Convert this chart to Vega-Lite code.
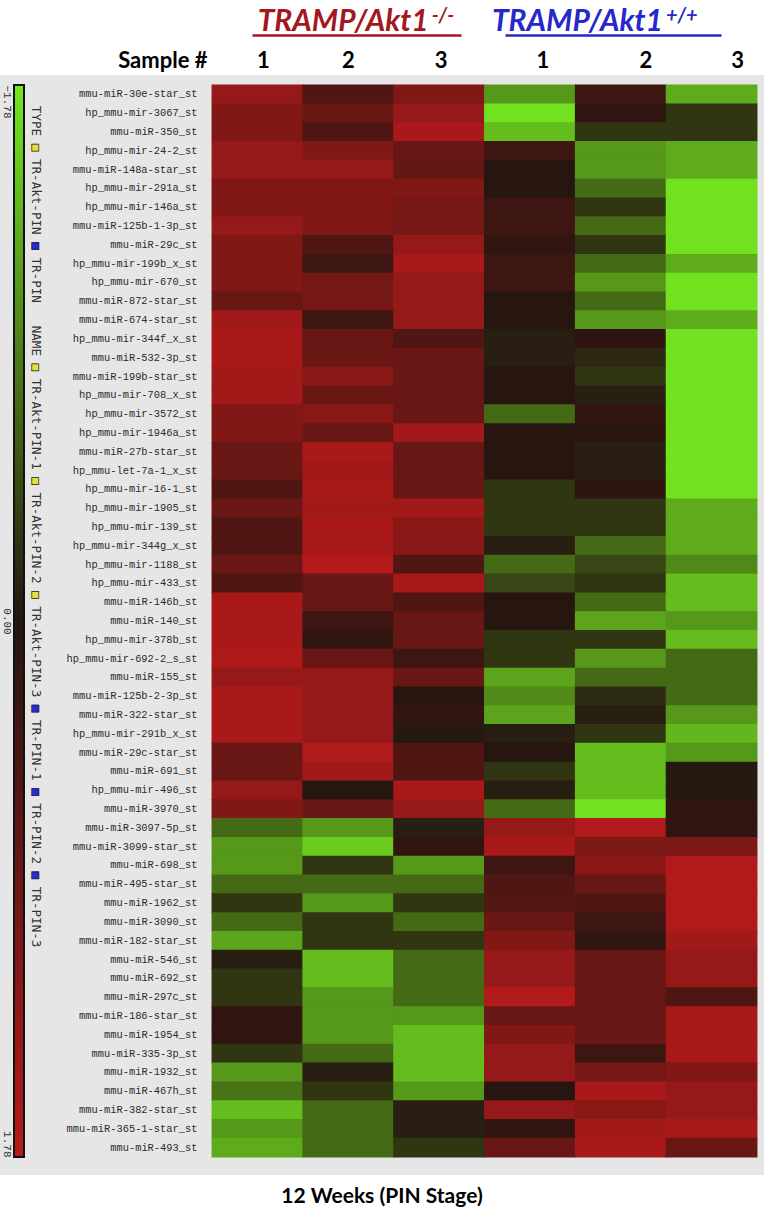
{
  "$schema": "https://vega.github.io/schema/vega-lite/v6.json",
  "width": 764,
  "height": 1100,
  "autosize": {"type": "none"},
  "padding": {"left": 0, "top": 75, "right": 0, "bottom": 35},
  "background": "white",
  "title": {"text": "12 Weeks (PIN Stage)", "orient": "bottom", "anchor": "middle", "frame": "group", "offset": 28, "baseline": "alphabetic", "font": "Lato", "fontSize": 21, "fontWeight": "bold", "color": "#000"},
  "datasets": {
    "groups": [{"grp": "TRAMP/Akt1-/-"}, {"grp": "TRAMP/Akt1+/+"}],
    "colorbar": [{"v": -1.78}, {"v": 0}, {"v": 1.78}],
    "annot": [
      {"kind": "text", "text": "TYPE\u00a0\u00a0\u00a0TR-Akt-PIN\u00a0\u00a0\u00a0TR-PIN\u00a0\u00a0\u00a0NAME\u00a0\u00a0\u00a0TR-Akt-PIN-1\u00a0\u00a0\u00a0TR-Akt-PIN-2\u00a0\u00a0\u00a0TR-Akt-PIN-3\u00a0\u00a0\u00a0TR-PIN-1\u00a0\u00a0\u00a0TR-PIN-2\u00a0\u00a0\u00a0TR-PIN-3"},
      {"kind": "yellow", "text": "\u200b\u00a0\u00a0\u00a0\u00a0\u00a0\u25a0\u00a0\u00a0\u00a0\u00a0\u00a0\u00a0\u00a0\u00a0\u00a0\u00a0\u00a0\u00a0\u00a0\u00a0\u00a0\u00a0\u00a0\u00a0\u00a0\u00a0\u00a0\u00a0\u00a0\u00a0\u00a0\u00a0\u00a0\u00a0\u25a0\u00a0\u00a0\u00a0\u00a0\u00a0\u00a0\u00a0\u00a0\u00a0\u00a0\u00a0\u00a0\u00a0\u00a0\u25a0\u00a0\u00a0\u00a0\u00a0\u00a0\u00a0\u00a0\u00a0\u00a0\u00a0\u00a0\u00a0\u00a0\u00a0\u25a0"},
      {"kind": "blue", "text": "\u200b\u00a0\u00a0\u00a0\u00a0\u00a0\u00a0\u00a0\u00a0\u00a0\u00a0\u00a0\u00a0\u00a0\u00a0\u00a0\u00a0\u00a0\u00a0\u25a0\u00a0\u00a0\u00a0\u00a0\u00a0\u00a0\u00a0\u00a0\u00a0\u00a0\u00a0\u00a0\u00a0\u00a0\u00a0\u00a0\u00a0\u00a0\u00a0\u00a0\u00a0\u00a0\u00a0\u00a0\u00a0\u00a0\u00a0\u00a0\u00a0\u00a0\u00a0\u00a0\u00a0\u00a0\u00a0\u00a0\u00a0\u00a0\u00a0\u00a0\u00a0\u00a0\u00a0\u00a0\u00a0\u00a0\u00a0\u00a0\u00a0\u00a0\u00a0\u00a0\u00a0\u00a0\u00a0\u00a0\u00a0\u00a0\u00a0\u00a0\u25a0\u00a0\u00a0\u00a0\u00a0\u00a0\u00a0\u00a0\u00a0\u00a0\u00a0\u25a0\u00a0\u00a0\u00a0\u00a0\u00a0\u00a0\u00a0\u00a0\u00a0\u00a0\u25a0"},
      {"kind": "box", "text": "\u200b\u00a0\u00a0\u00a0\u00a0\u00a0\u25a1\u00a0\u00a0\u00a0\u00a0\u00a0\u00a0\u00a0\u00a0\u00a0\u00a0\u00a0\u00a0\u25a1\u00a0\u00a0\u00a0\u00a0\u00a0\u00a0\u00a0\u00a0\u00a0\u00a0\u00a0\u00a0\u00a0\u00a0\u00a0\u25a1\u00a0\u00a0\u00a0\u00a0\u00a0\u00a0\u00a0\u00a0\u00a0\u00a0\u00a0\u00a0\u00a0\u00a0\u25a1\u00a0\u00a0\u00a0\u00a0\u00a0\u00a0\u00a0\u00a0\u00a0\u00a0\u00a0\u00a0\u00a0\u00a0\u25a1\u00a0\u00a0\u00a0\u00a0\u00a0\u00a0\u00a0\u00a0\u00a0\u00a0\u00a0\u00a0\u00a0\u00a0\u25a1\u00a0\u00a0\u00a0\u00a0\u00a0\u00a0\u00a0\u00a0\u00a0\u00a0\u25a1\u00a0\u00a0\u00a0\u00a0\u00a0\u00a0\u00a0\u00a0\u00a0\u00a0\u25a1"}
    ],
    "heat": [
      {"gene":"mmu-miR-30e-star_st","col":"KO1","v":1.36},{"gene":"mmu-miR-30e-star_st","col":"KO2","v":0.52},{"gene":"mmu-miR-30e-star_st","col":"KO3","v":1.12},{"gene":"mmu-miR-30e-star_st","col":"WT1","v":-1.12},{"gene":"mmu-miR-30e-star_st","col":"WT2","v":0.3},{"gene":"mmu-miR-30e-star_st","col":"WT3","v":-1.28},
      {"gene":"hp_mmu-mir-3067_st","col":"KO1","v":1.12},{"gene":"hp_mmu-mir-3067_st","col":"KO2","v":0.82},{"gene":"hp_mmu-mir-3067_st","col":"KO3","v":1.36},{"gene":"hp_mmu-mir-3067_st","col":"WT1","v":-1.74},{"gene":"hp_mmu-mir-3067_st","col":"WT2","v":0.15},{"gene":"hp_mmu-mir-3067_st","col":"WT3","v":-0.27},
      {"gene":"mmu-miR-350_st","col":"KO1","v":1.12},{"gene":"mmu-miR-350_st","col":"KO2","v":0.52},{"gene":"mmu-miR-350_st","col":"KO3","v":1.6},{"gene":"mmu-miR-350_st","col":"WT1","v":-1.42},{"gene":"mmu-miR-350_st","col":"WT2","v":-0.27},{"gene":"mmu-miR-350_st","col":"WT3","v":-0.27},
      {"gene":"hp_mmu-mir-24-2_st","col":"KO1","v":1.36},{"gene":"hp_mmu-mir-24-2_st","col":"KO2","v":1.12},{"gene":"hp_mmu-mir-24-2_st","col":"KO3","v":0.82},{"gene":"hp_mmu-mir-24-2_st","col":"WT1","v":0.3},{"gene":"hp_mmu-mir-24-2_st","col":"WT2","v":-1.12},{"gene":"hp_mmu-mir-24-2_st","col":"WT3","v":-1.28},
      {"gene":"mmu-miR-148a-star_st","col":"KO1","v":1.36},{"gene":"mmu-miR-148a-star_st","col":"KO2","v":1.36},{"gene":"mmu-miR-148a-star_st","col":"KO3","v":0.78},{"gene":"mmu-miR-148a-star_st","col":"WT1","v":0.04},{"gene":"mmu-miR-148a-star_st","col":"WT2","v":-1.12},{"gene":"mmu-miR-148a-star_st","col":"WT3","v":-1.28},
      {"gene":"hp_mmu-mir-291a_st","col":"KO1","v":1.12},{"gene":"hp_mmu-mir-291a_st","col":"KO2","v":1.12},{"gene":"hp_mmu-mir-291a_st","col":"KO3","v":1.12},{"gene":"hp_mmu-mir-291a_st","col":"WT1","v":0.04},{"gene":"hp_mmu-mir-291a_st","col":"WT2","v":-0.72},{"gene":"hp_mmu-mir-291a_st","col":"WT3","v":-1.74},
      {"gene":"hp_mmu-mir-146a_st","col":"KO1","v":1.12},{"gene":"hp_mmu-mir-146a_st","col":"KO2","v":1.12},{"gene":"hp_mmu-mir-146a_st","col":"KO3","v":0.98},{"gene":"hp_mmu-mir-146a_st","col":"WT1","v":0.3},{"gene":"hp_mmu-mir-146a_st","col":"WT2","v":-0.27},{"gene":"hp_mmu-mir-146a_st","col":"WT3","v":-1.74},
      {"gene":"mmu-miR-125b-1-3p_st","col":"KO1","v":1.36},{"gene":"mmu-miR-125b-1-3p_st","col":"KO2","v":1.12},{"gene":"mmu-miR-125b-1-3p_st","col":"KO3","v":0.98},{"gene":"mmu-miR-125b-1-3p_st","col":"WT1","v":0.3},{"gene":"mmu-miR-125b-1-3p_st","col":"WT2","v":-0.72},{"gene":"mmu-miR-125b-1-3p_st","col":"WT3","v":-1.74},
      {"gene":"mmu-miR-29c_st","col":"KO1","v":1.12},{"gene":"mmu-miR-29c_st","col":"KO2","v":0.52},{"gene":"mmu-miR-29c_st","col":"KO3","v":1.36},{"gene":"mmu-miR-29c_st","col":"WT1","v":0.15},{"gene":"mmu-miR-29c_st","col":"WT2","v":-0.27},{"gene":"mmu-miR-29c_st","col":"WT3","v":-1.74},
      {"gene":"hp_mmu-mir-199b_x_st","col":"KO1","v":1.12},{"gene":"hp_mmu-mir-199b_x_st","col":"KO2","v":0.3},{"gene":"hp_mmu-mir-199b_x_st","col":"KO3","v":1.6},{"gene":"hp_mmu-mir-199b_x_st","col":"WT1","v":0.3},{"gene":"hp_mmu-mir-199b_x_st","col":"WT2","v":-0.72},{"gene":"hp_mmu-mir-199b_x_st","col":"WT3","v":-1.28},
      {"gene":"hp_mmu-mir-670_st","col":"KO1","v":1.12},{"gene":"hp_mmu-mir-670_st","col":"KO2","v":0.98},{"gene":"hp_mmu-mir-670_st","col":"KO3","v":1.36},{"gene":"hp_mmu-mir-670_st","col":"WT1","v":0.3},{"gene":"hp_mmu-mir-670_st","col":"WT2","v":-1.12},{"gene":"hp_mmu-mir-670_st","col":"WT3","v":-1.74},
      {"gene":"mmu-miR-872-star_st","col":"KO1","v":0.82},{"gene":"mmu-miR-872-star_st","col":"KO2","v":0.98},{"gene":"mmu-miR-872-star_st","col":"KO3","v":1.36},{"gene":"mmu-miR-872-star_st","col":"WT1","v":0.04},{"gene":"mmu-miR-872-star_st","col":"WT2","v":-0.72},{"gene":"mmu-miR-872-star_st","col":"WT3","v":-1.74},
      {"gene":"mmu-miR-674-star_st","col":"KO1","v":1.5},{"gene":"mmu-miR-674-star_st","col":"KO2","v":0.3},{"gene":"mmu-miR-674-star_st","col":"KO3","v":1.36},{"gene":"mmu-miR-674-star_st","col":"WT1","v":0.04},{"gene":"mmu-miR-674-star_st","col":"WT2","v":-1.12},{"gene":"mmu-miR-674-star_st","col":"WT3","v":-1.28},
      {"gene":"hp_mmu-mir-344f_x_st","col":"KO1","v":1.6},{"gene":"hp_mmu-mir-344f_x_st","col":"KO2","v":0.82},{"gene":"hp_mmu-mir-344f_x_st","col":"KO3","v":0.52},{"gene":"hp_mmu-mir-344f_x_st","col":"WT1","v":-0.08},{"gene":"hp_mmu-mir-344f_x_st","col":"WT2","v":0.12},{"gene":"hp_mmu-mir-344f_x_st","col":"WT3","v":-1.74},
      {"gene":"mmu-miR-532-3p_st","col":"KO1","v":1.6},{"gene":"mmu-miR-532-3p_st","col":"KO2","v":0.82},{"gene":"mmu-miR-532-3p_st","col":"KO3","v":0.82},{"gene":"mmu-miR-532-3p_st","col":"WT1","v":-0.08},{"gene":"mmu-miR-532-3p_st","col":"WT2","v":-0.15},{"gene":"mmu-miR-532-3p_st","col":"WT3","v":-1.74},
      {"gene":"mmu-miR-199b-star_st","col":"KO1","v":1.5},{"gene":"mmu-miR-199b-star_st","col":"KO2","v":1.22},{"gene":"mmu-miR-199b-star_st","col":"KO3","v":0.82},{"gene":"mmu-miR-199b-star_st","col":"WT1","v":0.04},{"gene":"mmu-miR-199b-star_st","col":"WT2","v":-0.27},{"gene":"mmu-miR-199b-star_st","col":"WT3","v":-1.74},
      {"gene":"hp_mmu-mir-708_x_st","col":"KO1","v":1.5},{"gene":"hp_mmu-mir-708_x_st","col":"KO2","v":0.82},{"gene":"hp_mmu-mir-708_x_st","col":"KO3","v":0.82},{"gene":"hp_mmu-mir-708_x_st","col":"WT1","v":0.04},{"gene":"hp_mmu-mir-708_x_st","col":"WT2","v":-0.08},{"gene":"hp_mmu-mir-708_x_st","col":"WT3","v":-1.74},
      {"gene":"hp_mmu-mir-3572_st","col":"KO1","v":1.12},{"gene":"hp_mmu-mir-3572_st","col":"KO2","v":1.22},{"gene":"hp_mmu-mir-3572_st","col":"KO3","v":0.82},{"gene":"hp_mmu-mir-3572_st","col":"WT1","v":-0.72},{"gene":"hp_mmu-mir-3572_st","col":"WT2","v":0.15},{"gene":"hp_mmu-mir-3572_st","col":"WT3","v":-1.74},
      {"gene":"hp_mmu-mir-1946a_st","col":"KO1","v":1.12},{"gene":"hp_mmu-mir-1946a_st","col":"KO2","v":0.82},{"gene":"hp_mmu-mir-1946a_st","col":"KO3","v":1.5},{"gene":"hp_mmu-mir-1946a_st","col":"WT1","v":0.04},{"gene":"hp_mmu-mir-1946a_st","col":"WT2","v":0.08},{"gene":"hp_mmu-mir-1946a_st","col":"WT3","v":-1.74},
      {"gene":"mmu-miR-27b-star_st","col":"KO1","v":0.82},{"gene":"mmu-miR-27b-star_st","col":"KO2","v":1.6},{"gene":"mmu-miR-27b-star_st","col":"KO3","v":0.82},{"gene":"mmu-miR-27b-star_st","col":"WT1","v":0.04},{"gene":"mmu-miR-27b-star_st","col":"WT2","v":-0.08},{"gene":"mmu-miR-27b-star_st","col":"WT3","v":-1.74},
      {"gene":"hp_mmu-let-7a-1_x_st","col":"KO1","v":0.82},{"gene":"hp_mmu-let-7a-1_x_st","col":"KO2","v":1.5},{"gene":"hp_mmu-let-7a-1_x_st","col":"KO3","v":0.82},{"gene":"hp_mmu-let-7a-1_x_st","col":"WT1","v":0.04},{"gene":"hp_mmu-let-7a-1_x_st","col":"WT2","v":-0.08},{"gene":"hp_mmu-let-7a-1_x_st","col":"WT3","v":-1.74},
      {"gene":"hp_mmu-mir-16-1_st","col":"KO1","v":0.52},{"gene":"hp_mmu-mir-16-1_st","col":"KO2","v":1.6},{"gene":"hp_mmu-mir-16-1_st","col":"KO3","v":0.82},{"gene":"hp_mmu-mir-16-1_st","col":"WT1","v":-0.27},{"gene":"hp_mmu-mir-16-1_st","col":"WT2","v":0.12},{"gene":"hp_mmu-mir-16-1_st","col":"WT3","v":-1.74},
      {"gene":"hp_mmu-mir-1905_st","col":"KO1","v":0.82},{"gene":"hp_mmu-mir-1905_st","col":"KO2","v":1.5},{"gene":"hp_mmu-mir-1905_st","col":"KO3","v":1.5},{"gene":"hp_mmu-mir-1905_st","col":"WT1","v":-0.27},{"gene":"hp_mmu-mir-1905_st","col":"WT2","v":-0.27},{"gene":"hp_mmu-mir-1905_st","col":"WT3","v":-1.28},
      {"gene":"hp_mmu-mir-139_st","col":"KO1","v":0.52},{"gene":"hp_mmu-mir-139_st","col":"KO2","v":1.6},{"gene":"hp_mmu-mir-139_st","col":"KO3","v":1.22},{"gene":"hp_mmu-mir-139_st","col":"WT1","v":-0.27},{"gene":"hp_mmu-mir-139_st","col":"WT2","v":-0.27},{"gene":"hp_mmu-mir-139_st","col":"WT3","v":-1.28},
      {"gene":"hp_mmu-mir-344g_x_st","col":"KO1","v":0.52},{"gene":"hp_mmu-mir-344g_x_st","col":"KO2","v":1.6},{"gene":"hp_mmu-mir-344g_x_st","col":"KO3","v":1.22},{"gene":"hp_mmu-mir-344g_x_st","col":"WT1","v":-0.08},{"gene":"hp_mmu-mir-344g_x_st","col":"WT2","v":-0.72},{"gene":"hp_mmu-mir-344g_x_st","col":"WT3","v":-1.28},
      {"gene":"hp_mmu-mir-1188_st","col":"KO1","v":0.82},{"gene":"hp_mmu-mir-1188_st","col":"KO2","v":1.72},{"gene":"hp_mmu-mir-1188_st","col":"KO3","v":0.52},{"gene":"hp_mmu-mir-1188_st","col":"WT1","v":-0.72},{"gene":"hp_mmu-mir-1188_st","col":"WT2","v":-0.42},{"gene":"hp_mmu-mir-1188_st","col":"WT3","v":-0.98},
      {"gene":"hp_mmu-mir-433_st","col":"KO1","v":0.52},{"gene":"hp_mmu-mir-433_st","col":"KO2","v":0.82},{"gene":"hp_mmu-mir-433_st","col":"KO3","v":1.6},{"gene":"hp_mmu-mir-433_st","col":"WT1","v":-0.42},{"gene":"hp_mmu-mir-433_st","col":"WT2","v":-0.27},{"gene":"hp_mmu-mir-433_st","col":"WT3","v":-1.42},
      {"gene":"mmu-miR-146b_st","col":"KO1","v":1.6},{"gene":"mmu-miR-146b_st","col":"KO2","v":0.82},{"gene":"mmu-miR-146b_st","col":"KO3","v":0.52},{"gene":"mmu-miR-146b_st","col":"WT1","v":0.04},{"gene":"mmu-miR-146b_st","col":"WT2","v":-0.72},{"gene":"mmu-miR-146b_st","col":"WT3","v":-1.42},
      {"gene":"mmu-miR-140_st","col":"KO1","v":1.6},{"gene":"mmu-miR-140_st","col":"KO2","v":0.3},{"gene":"mmu-miR-140_st","col":"KO3","v":0.82},{"gene":"mmu-miR-140_st","col":"WT1","v":0.04},{"gene":"mmu-miR-140_st","col":"WT2","v":-1.22},{"gene":"mmu-miR-140_st","col":"WT3","v":-1.12},
      {"gene":"hp_mmu-mir-378b_st","col":"KO1","v":1.6},{"gene":"hp_mmu-mir-378b_st","col":"KO2","v":0.15},{"gene":"hp_mmu-mir-378b_st","col":"KO3","v":0.82},{"gene":"hp_mmu-mir-378b_st","col":"WT1","v":-0.27},{"gene":"hp_mmu-mir-378b_st","col":"WT2","v":-0.27},{"gene":"hp_mmu-mir-378b_st","col":"WT3","v":-1.42},
      {"gene":"hp_mmu-mir-692-2_s_st","col":"KO1","v":1.65},{"gene":"hp_mmu-mir-692-2_s_st","col":"KO2","v":0.82},{"gene":"hp_mmu-mir-692-2_s_st","col":"KO3","v":0.3},{"gene":"hp_mmu-mir-692-2_s_st","col":"WT1","v":-0.27},{"gene":"hp_mmu-mir-692-2_s_st","col":"WT2","v":-1.12},{"gene":"hp_mmu-mir-692-2_s_st","col":"WT3","v":-0.72},
      {"gene":"mmu-miR-155_st","col":"KO1","v":1.36},{"gene":"mmu-miR-155_st","col":"KO2","v":1.36},{"gene":"mmu-miR-155_st","col":"KO3","v":0.82},{"gene":"mmu-miR-155_st","col":"WT1","v":-1.22},{"gene":"mmu-miR-155_st","col":"WT2","v":-0.72},{"gene":"mmu-miR-155_st","col":"WT3","v":-0.72},
      {"gene":"mmu-miR-125b-2-3p_st","col":"KO1","v":1.6},{"gene":"mmu-miR-125b-2-3p_st","col":"KO2","v":1.36},{"gene":"mmu-miR-125b-2-3p_st","col":"KO3","v":0.04},{"gene":"mmu-miR-125b-2-3p_st","col":"WT1","v":-1.0},{"gene":"mmu-miR-125b-2-3p_st","col":"WT2","v":-0.2},{"gene":"mmu-miR-125b-2-3p_st","col":"WT3","v":-0.72},
      {"gene":"mmu-miR-322-star_st","col":"KO1","v":1.6},{"gene":"mmu-miR-322-star_st","col":"KO2","v":1.36},{"gene":"mmu-miR-322-star_st","col":"KO3","v":0.15},{"gene":"mmu-miR-322-star_st","col":"WT1","v":-1.22},{"gene":"mmu-miR-322-star_st","col":"WT2","v":-0.08},{"gene":"mmu-miR-322-star_st","col":"WT3","v":-1.12},
      {"gene":"hp_mmu-mir-291b_x_st","col":"KO1","v":1.6},{"gene":"hp_mmu-mir-291b_x_st","col":"KO2","v":1.36},{"gene":"hp_mmu-mir-291b_x_st","col":"KO3","v":-0.03},{"gene":"hp_mmu-mir-291b_x_st","col":"WT1","v":-0.08},{"gene":"hp_mmu-mir-291b_x_st","col":"WT2","v":-0.27},{"gene":"hp_mmu-mir-291b_x_st","col":"WT3","v":-1.38},
      {"gene":"mmu-miR-29c-star_st","col":"KO1","v":0.82},{"gene":"mmu-miR-29c-star_st","col":"KO2","v":1.7},{"gene":"mmu-miR-29c-star_st","col":"KO3","v":0.52},{"gene":"mmu-miR-29c-star_st","col":"WT1","v":0.04},{"gene":"mmu-miR-29c-star_st","col":"WT2","v":-1.42},{"gene":"mmu-miR-29c-star_st","col":"WT3","v":-1.12},
      {"gene":"mmu-miR-691_st","col":"KO1","v":0.82},{"gene":"mmu-miR-691_st","col":"KO2","v":1.5},{"gene":"mmu-miR-691_st","col":"KO3","v":0.52},{"gene":"mmu-miR-691_st","col":"WT1","v":-0.27},{"gene":"mmu-miR-691_st","col":"WT2","v":-1.42},{"gene":"mmu-miR-691_st","col":"WT3","v":-0.03},
      {"gene":"hp_mmu-mir-496_st","col":"KO1","v":1.36},{"gene":"hp_mmu-mir-496_st","col":"KO2","v":0.04},{"gene":"hp_mmu-mir-496_st","col":"KO3","v":1.6},{"gene":"hp_mmu-mir-496_st","col":"WT1","v":-0.08},{"gene":"hp_mmu-mir-496_st","col":"WT2","v":-1.42},{"gene":"hp_mmu-mir-496_st","col":"WT3","v":-0.03},
      {"gene":"mmu-miR-3970_st","col":"KO1","v":1.12},{"gene":"mmu-miR-3970_st","col":"KO2","v":0.82},{"gene":"mmu-miR-3970_st","col":"KO3","v":1.36},{"gene":"mmu-miR-3970_st","col":"WT1","v":-0.72},{"gene":"mmu-miR-3970_st","col":"WT2","v":-1.74},{"gene":"mmu-miR-3970_st","col":"WT3","v":0.15},
      {"gene":"mmu-miR-3097-5p_st","col":"KO1","v":-0.72},{"gene":"mmu-miR-3097-5p_st","col":"KO2","v":-1.12},{"gene":"mmu-miR-3097-5p_st","col":"KO3","v":-0.08},{"gene":"mmu-miR-3097-5p_st","col":"WT1","v":1.36},{"gene":"mmu-miR-3097-5p_st","col":"WT2","v":1.7},{"gene":"mmu-miR-3097-5p_st","col":"WT3","v":0.15},
      {"gene":"mmu-miR-3099-star_st","col":"KO1","v":-1.12},{"gene":"mmu-miR-3099-star_st","col":"KO2","v":-1.55},{"gene":"mmu-miR-3099-star_st","col":"KO3","v":0.15},{"gene":"mmu-miR-3099-star_st","col":"WT1","v":1.6},{"gene":"mmu-miR-3099-star_st","col":"WT2","v":1.05},{"gene":"mmu-miR-3099-star_st","col":"WT3","v":1.05},
      {"gene":"mmu-miR-698_st","col":"KO1","v":-1.12},{"gene":"mmu-miR-698_st","col":"KO2","v":-0.27},{"gene":"mmu-miR-698_st","col":"KO3","v":-1.12},{"gene":"mmu-miR-698_st","col":"WT1","v":0.3},{"gene":"mmu-miR-698_st","col":"WT2","v":1.22},{"gene":"mmu-miR-698_st","col":"WT3","v":1.7},
      {"gene":"mmu-miR-495-star_st","col":"KO1","v":-0.72},{"gene":"mmu-miR-495-star_st","col":"KO2","v":-0.72},{"gene":"mmu-miR-495-star_st","col":"KO3","v":-0.72},{"gene":"mmu-miR-495-star_st","col":"WT1","v":0.52},{"gene":"mmu-miR-495-star_st","col":"WT2","v":0.82},{"gene":"mmu-miR-495-star_st","col":"WT3","v":1.7},
      {"gene":"mmu-miR-1962_st","col":"KO1","v":-0.27},{"gene":"mmu-miR-1962_st","col":"KO2","v":-1.12},{"gene":"mmu-miR-1962_st","col":"KO3","v":-0.27},{"gene":"mmu-miR-1962_st","col":"WT1","v":0.55},{"gene":"mmu-miR-1962_st","col":"WT2","v":0.52},{"gene":"mmu-miR-1962_st","col":"WT3","v":1.7},
      {"gene":"mmu-miR-3090_st","col":"KO1","v":-0.72},{"gene":"mmu-miR-3090_st","col":"KO2","v":-0.27},{"gene":"mmu-miR-3090_st","col":"KO3","v":-0.72},{"gene":"mmu-miR-3090_st","col":"WT1","v":0.82},{"gene":"mmu-miR-3090_st","col":"WT2","v":0.3},{"gene":"mmu-miR-3090_st","col":"WT3","v":1.7},
      {"gene":"mmu-miR-182-star_st","col":"KO1","v":-1.22},{"gene":"mmu-miR-182-star_st","col":"KO2","v":-0.27},{"gene":"mmu-miR-182-star_st","col":"KO3","v":-0.27},{"gene":"mmu-miR-182-star_st","col":"WT1","v":1.12},{"gene":"mmu-miR-182-star_st","col":"WT2","v":0.15},{"gene":"mmu-miR-182-star_st","col":"WT3","v":1.5},
      {"gene":"mmu-miR-546_st","col":"KO1","v":-0.08},{"gene":"mmu-miR-546_st","col":"KO2","v":-1.42},{"gene":"mmu-miR-546_st","col":"KO3","v":-0.72},{"gene":"mmu-miR-546_st","col":"WT1","v":1.36},{"gene":"mmu-miR-546_st","col":"WT2","v":0.82},{"gene":"mmu-miR-546_st","col":"WT3","v":1.36},
      {"gene":"mmu-miR-692_st","col":"KO1","v":-0.27},{"gene":"mmu-miR-692_st","col":"KO2","v":-1.42},{"gene":"mmu-miR-692_st","col":"KO3","v":-0.72},{"gene":"mmu-miR-692_st","col":"WT1","v":1.36},{"gene":"mmu-miR-692_st","col":"WT2","v":0.82},{"gene":"mmu-miR-692_st","col":"WT3","v":1.36},
      {"gene":"mmu-miR-297c_st","col":"KO1","v":-0.27},{"gene":"mmu-miR-297c_st","col":"KO2","v":-1.12},{"gene":"mmu-miR-297c_st","col":"KO3","v":-0.72},{"gene":"mmu-miR-297c_st","col":"WT1","v":1.72},{"gene":"mmu-miR-297c_st","col":"WT2","v":0.82},{"gene":"mmu-miR-297c_st","col":"WT3","v":0.52},
      {"gene":"mmu-miR-186-star_st","col":"KO1","v":0.15},{"gene":"mmu-miR-186-star_st","col":"KO2","v":-1.12},{"gene":"mmu-miR-186-star_st","col":"KO3","v":-1.12},{"gene":"mmu-miR-186-star_st","col":"WT1","v":0.82},{"gene":"mmu-miR-186-star_st","col":"WT2","v":0.82},{"gene":"mmu-miR-186-star_st","col":"WT3","v":1.6},
      {"gene":"mmu-miR-1954_st","col":"KO1","v":0.15},{"gene":"mmu-miR-1954_st","col":"KO2","v":-1.12},{"gene":"mmu-miR-1954_st","col":"KO3","v":-1.42},{"gene":"mmu-miR-1954_st","col":"WT1","v":1.12},{"gene":"mmu-miR-1954_st","col":"WT2","v":0.82},{"gene":"mmu-miR-1954_st","col":"WT3","v":1.6},
      {"gene":"mmu-miR-335-3p_st","col":"KO1","v":-0.27},{"gene":"mmu-miR-335-3p_st","col":"KO2","v":-0.72},{"gene":"mmu-miR-335-3p_st","col":"KO3","v":-1.42},{"gene":"mmu-miR-335-3p_st","col":"WT1","v":1.36},{"gene":"mmu-miR-335-3p_st","col":"WT2","v":0.3},{"gene":"mmu-miR-335-3p_st","col":"WT3","v":1.6},
      {"gene":"mmu-miR-1932_st","col":"KO1","v":-1.12},{"gene":"mmu-miR-1932_st","col":"KO2","v":-0.08},{"gene":"mmu-miR-1932_st","col":"KO3","v":-1.42},{"gene":"mmu-miR-1932_st","col":"WT1","v":1.36},{"gene":"mmu-miR-1932_st","col":"WT2","v":0.98},{"gene":"mmu-miR-1932_st","col":"WT3","v":1.12},
      {"gene":"mmu-miR-467h_st","col":"KO1","v":-0.8},{"gene":"mmu-miR-467h_st","col":"KO2","v":-0.27},{"gene":"mmu-miR-467h_st","col":"KO3","v":-1.12},{"gene":"mmu-miR-467h_st","col":"WT1","v":0.04},{"gene":"mmu-miR-467h_st","col":"WT2","v":1.6},{"gene":"mmu-miR-467h_st","col":"WT3","v":1.36},
      {"gene":"mmu-miR-382-star_st","col":"KO1","v":-1.42},{"gene":"mmu-miR-382-star_st","col":"KO2","v":-0.72},{"gene":"mmu-miR-382-star_st","col":"KO3","v":-0.08},{"gene":"mmu-miR-382-star_st","col":"WT1","v":1.36},{"gene":"mmu-miR-382-star_st","col":"WT2","v":1.22},{"gene":"mmu-miR-382-star_st","col":"WT3","v":1.36},
      {"gene":"mmu-miR-365-1-star_st","col":"KO1","v":-1.12},{"gene":"mmu-miR-365-1-star_st","col":"KO2","v":-0.72},{"gene":"mmu-miR-365-1-star_st","col":"KO3","v":-0.08},{"gene":"mmu-miR-365-1-star_st","col":"WT1","v":0.15},{"gene":"mmu-miR-365-1-star_st","col":"WT2","v":1.5},{"gene":"mmu-miR-365-1-star_st","col":"WT3","v":1.6},
      {"gene":"mmu-miR-493_st","col":"KO1","v":-1.28},{"gene":"mmu-miR-493_st","col":"KO2","v":-0.72},{"gene":"mmu-miR-493_st","col":"KO3","v":-0.27},{"gene":"mmu-miR-493_st","col":"WT1","v":0.82},{"gene":"mmu-miR-493_st","col":"WT2","v":1.6},{"gene":"mmu-miR-493_st","col":"WT3","v":0.82}
    ]
  },
  "layer": [
    {
      "layer": [
        {
          "data": {"name": "heat"},
          "mark": {"type": "rect", "width": {"band": 1.01}, "height": {"band": 1.04}},
          "encoding": {
            "x": {"field": "col", "type": "nominal",
              "scale": {"domain": ["KO1","KO2","KO3","WT1","WT2","WT3"], "range": [212, 757], "paddingInner": 0, "paddingOuter": 0},
              "axis": {"orient": "top", "offset": 0, "ticks": false, "tickSize": 0, "domain": false, "labelAngle": 0,
                "labelPadding": 8, "labelBaseline": "alphabetic", "labelExpr": "slice(datum.value, 2)",
                "labelFont": "Lato", "labelFontSize": 22, "labelFontWeight": "bold", "labelColor": "#000",
                "labelOffset": {"condition": [{"test": "datum.value === 'KO1'", "value": 6}, {"test": "datum.value === 'KO3'", "value": 2}, {"test": "datum.value === 'WT1'", "value": 13}, {"test": "datum.value === 'WT2'", "value": 25}, {"test": "datum.value === 'WT3'", "value": 26}], "value": 0},
                "title": "Sample #", "titleX": 207, "titleY": -8, "titleAlign": "right", "titleBaseline": "alphabetic",
                "titleFont": "Lato", "titleFontSize": 22, "titleFontWeight": "bold", "titleColor": "#000", "titleAngle": 0}},
            "y": {"field": "gene", "type": "nominal",
              "scale": {"domain": ["mmu-miR-30e-star_st","hp_mmu-mir-3067_st","mmu-miR-350_st","hp_mmu-mir-24-2_st","mmu-miR-148a-star_st","hp_mmu-mir-291a_st","hp_mmu-mir-146a_st","mmu-miR-125b-1-3p_st","mmu-miR-29c_st","hp_mmu-mir-199b_x_st","hp_mmu-mir-670_st","mmu-miR-872-star_st","mmu-miR-674-star_st","hp_mmu-mir-344f_x_st","mmu-miR-532-3p_st","mmu-miR-199b-star_st","hp_mmu-mir-708_x_st","hp_mmu-mir-3572_st","hp_mmu-mir-1946a_st","mmu-miR-27b-star_st","hp_mmu-let-7a-1_x_st","hp_mmu-mir-16-1_st","hp_mmu-mir-1905_st","hp_mmu-mir-139_st","hp_mmu-mir-344g_x_st","hp_mmu-mir-1188_st","hp_mmu-mir-433_st","mmu-miR-146b_st","mmu-miR-140_st","hp_mmu-mir-378b_st","hp_mmu-mir-692-2_s_st","mmu-miR-155_st","mmu-miR-125b-2-3p_st","mmu-miR-322-star_st","hp_mmu-mir-291b_x_st","mmu-miR-29c-star_st","mmu-miR-691_st","hp_mmu-mir-496_st","mmu-miR-3970_st","mmu-miR-3097-5p_st","mmu-miR-3099-star_st","mmu-miR-698_st","mmu-miR-495-star_st","mmu-miR-1962_st","mmu-miR-3090_st","mmu-miR-182-star_st","mmu-miR-546_st","mmu-miR-692_st","mmu-miR-297c_st","mmu-miR-186-star_st","mmu-miR-1954_st","mmu-miR-335-3p_st","mmu-miR-1932_st","mmu-miR-467h_st","mmu-miR-382-star_st","mmu-miR-365-1-star_st","mmu-miR-493_st"],
                "range": [10, 1082], "paddingInner": 0, "paddingOuter": 0},
              "axis": {"orient": "left", "offset": -200, "ticks": false, "tickSize": 0, "domain": false, "title": null,
                "labelPadding": 3, "labelFont": "Liberation Mono", "labelFontSize": 10.4, "labelColor": "#2b2b2b", "labelLimit": 0}},
            "color": {"field": "v", "type": "quantitative",
              "scale": {"domain": [1.78, 0, -1.78], "range": ["#b81a1a", "#241510", "#74e620"], "interpolate": "rgb"},
              "legend": {"type": "gradient", "orient": "none", "legendX": 14, "legendY": 10, "direction": "vertical", "title": null,
                "gradientLength": 1072, "gradientThickness": 10, "gradientStrokeColor": "#111", "gradientStrokeWidth": 2,
                "labelOpacity": 0, "labelExpr": "''", "padding": 0}}
          }
        },
        {
          "data": {"name": "annot"},
          "transform": [{"filter": "datum.kind === 'text'"}],
          "mark": {"type": "text", "angle": 90, "align": "left", "baseline": "middle", "font": "DejaVu Sans Mono", "fontSize": 12.6, "color": "#333", "dx": 2, "dy": 176},
          "encoding": {"x": {"datum": "KO1", "bandPosition": 0}, "y": {"datum": "hp_mmu-mir-3067_st", "bandPosition": 0}, "text": {"field": "text"}}
        },
        {
          "data": {"name": "annot"},
          "transform": [{"filter": "datum.kind === 'yellow'"}],
          "mark": {"type": "text", "angle": 90, "align": "left", "baseline": "middle", "font": "DejaVu Sans Mono", "fontSize": 12.6, "color": "#e6df3c", "dx": 2, "dy": 176},
          "encoding": {"x": {"datum": "KO1", "bandPosition": 0}, "y": {"datum": "hp_mmu-mir-3067_st", "bandPosition": 0}, "text": {"field": "text"}}
        },
        {
          "data": {"name": "annot"},
          "transform": [{"filter": "datum.kind === 'blue'"}],
          "mark": {"type": "text", "angle": 90, "align": "left", "baseline": "middle", "font": "DejaVu Sans Mono", "fontSize": 12.6, "color": "#2a2ad0", "dx": 2, "dy": 176},
          "encoding": {"x": {"datum": "KO1", "bandPosition": 0}, "y": {"datum": "hp_mmu-mir-3067_st", "bandPosition": 0}, "text": {"field": "text"}}
        },
        {
          "data": {"name": "annot"},
          "transform": [{"filter": "datum.kind === 'box'"}],
          "mark": {"type": "text", "angle": 90, "align": "left", "baseline": "middle", "font": "DejaVu Sans Mono", "fontSize": 12.6, "color": "#222", "dx": 2, "dy": 176},
          "encoding": {"x": {"datum": "KO1", "bandPosition": 0}, "y": {"datum": "hp_mmu-mir-3067_st", "bandPosition": 0}, "text": {"field": "text"}}
        }
      ]
    },
    {
      "data": {"name": "colorbar"},
      "mark": {"type": "point", "opacity": 0},
      "encoding": {
        "y": {"field": "v", "type": "quantitative",
          "scale": {"domain": [-1.78, 1.78], "range": [10, 1082], "nice": false, "zero": false},
          "axis": {"orient": "left", "offset": -13, "values": [-1.78, 0, 1.78], "format": ".2f", "labelAngle": 90,
            "labelAlign": {"condition": [{"test": "datum.value < -1", "value": "left"}, {"test": "datum.value > 1", "value": "right"}], "value": "center"},
            "labelBaseline": "top", "labelPadding": 1, "ticks": false, "tickSize": 0, "domain": false, "grid": false, "title": null,
            "labelFont": "Liberation Mono", "labelFontSize": 11, "labelColor": "#333", "labelFlush": false, "labelOverlap": false, "labelBound": false}}
      }
    },
    {
      "data": {"name": "groups"},
      "mark": {"type": "point", "opacity": 0},
      "encoding": {
        "x": {"field": "grp", "type": "nominal",
          "scale": {"domain": ["TRAMP/Akt1-/-", "TRAMP/Akt1+/+"], "range": [250, 718.5], "paddingInner": 0.1735, "paddingOuter": 0},
          "axis": {"orient": "top", "title": null, "ticks": false, "tickSize": 0, "domain": false, "labelAngle": 0,
            "labelPadding": 45, "labelBaseline": "alphabetic", "labelAlign": "left", "labelExpr": "slice(datum.value, 0, 10)", "labelLimit": 0,
            "labelFont": "Lato", "labelFontSize": 30, "labelFontWeight": "bold", "labelFontStyle": "italic", "labelOffset": -110,
            "labelColor": {"condition": {"test": "datum.value === 'TRAMP/Akt1-/-'", "value": "#a3181e"}, "value": "#2727cc"}}}
      }
    },
    {
      "data": {"name": "groups"},
      "mark": {"type": "point", "opacity": 0},
      "encoding": {
        "x": {"field": "grp", "type": "nominal",
          "scale": {"domain": ["TRAMP/Akt1-/-", "TRAMP/Akt1+/+"], "range": [250, 718.5], "paddingInner": 0.1735, "paddingOuter": 0},
          "axis": {"orient": "top", "title": null, "ticks": false, "tickSize": 0, "domain": false, "labelAngle": 0,
            "labelPadding": 54, "labelBaseline": "alphabetic", "labelAlign": "left", "labelExpr": "slice(datum.value, 10)", "labelLimit": 0,
            "labelFont": "Lato", "labelFontSize": 20, "labelFontWeight": "bold", "labelFontStyle": "italic", "labelOffset": 64,
            "labelColor": {"condition": {"test": "datum.value === 'TRAMP/Akt1-/-'", "value": "#a3181e"}, "value": "#2727cc"}}}
      }
    },
    {
      "data": {"name": "groups"},
      "transform": [{"filter": "datum.grp === 'TRAMP/Akt1-/-'"}],
      "mark": {"type": "point", "opacity": 0},
      "encoding": {
        "x": {"field": "grp", "type": "nominal",
          "scale": {"range": [252, 461], "paddingInner": 0, "paddingOuter": 0},
          "axis": {"orient": "top", "offset": 40, "title": null, "ticks": false, "labels": false, "domain": true, "domainColor": "#a3181e", "domainWidth": 2.5, "domainCap": "butt"}}
      }
    },
    {
      "data": {"name": "groups"},
      "transform": [{"filter": "datum.grp === 'TRAMP/Akt1+/+'"}],
      "mark": {"type": "point", "opacity": 0},
      "encoding": {
        "x": {"field": "grp", "type": "nominal",
          "scale": {"range": [505, 721], "paddingInner": 0, "paddingOuter": 0},
          "axis": {"orient": "top", "offset": 40, "title": null, "ticks": false, "labels": false, "domain": true, "domainColor": "#2727cc", "domainWidth": 2.5, "domainCap": "butt"}}
      }
    }
  ],
  "resolve": {"scale": {"x": "independent", "y": "independent"}, "axis": {"x": "independent", "y": "independent"}},
  "config": {"view": {"fill": "#e6e6e6", "stroke": null}, "axis": {"grid": false}}
}
